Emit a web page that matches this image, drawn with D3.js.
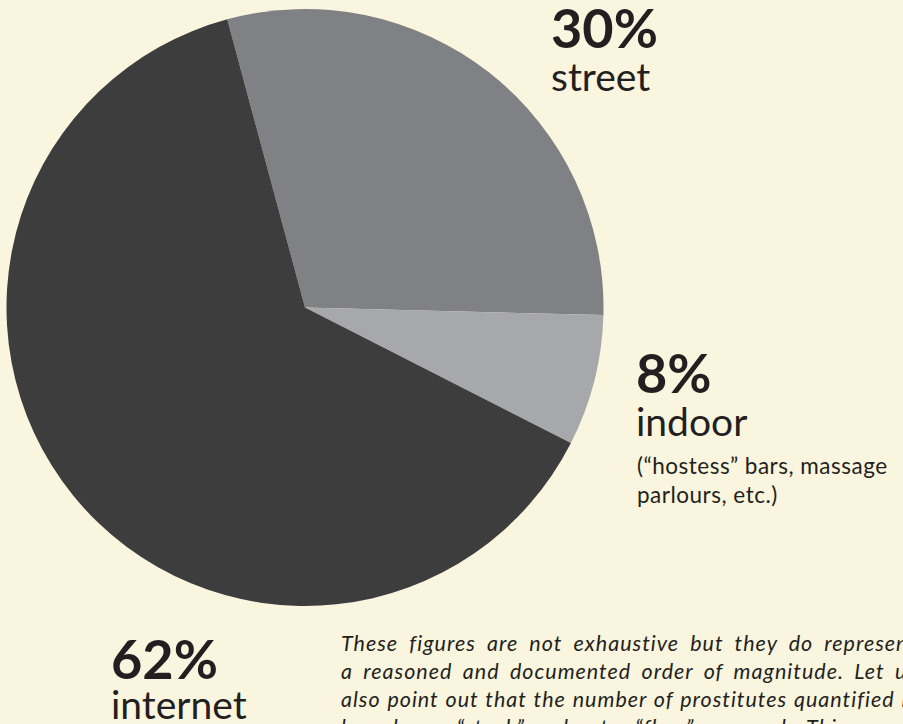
<!DOCTYPE html>
<html>
<head>
<meta charset="utf-8">
<script src="https://cdn.jsdelivr.net/npm/d3@7"></script>
<style>
  html, body { margin: 0; padding: 0; background: #f9f5de; overflow: hidden; }
  svg { display: block; }
</style>
</head>
<body>
<svg id="chart" width="903" height="724"></svg>
<script>
// ---- data ----
const categories = ["street", "indoor", "internet"];
const shares = [29.6, 7.1, 63.3];           // slice sizes (percent)
const percentLabels = ["30%", "8%", "62%"];  // printed labels
const sliceColors = ["#808184", "#a7a8ab", "#3d3d3d"];
const indoorNote = ["(\u201Chostess\u201D bars, massage", "parlours, etc.)"];
const noteLines = [
  "These figures are not exhaustive but they do represent",
  "a reasoned and documented order of magnitude. Let us",
  "also point out that the number of prostitutes quantified is",
  "based on a \u201Cstock\u201D and not a \u201Cflow\u201D approach. This means"
];

const svg = d3.select("#chart");
const cx = 305, cy = 307.5, r = 298.5;
const startDeg = -15.1;

const pie = d3.pie().sort(null).value(d => d)
  .startAngle(startDeg * Math.PI / 180)
  .endAngle((startDeg + 360) * Math.PI / 180);
const arc = d3.arc().innerRadius(0).outerRadius(r);
const color = d3.scaleOrdinal().domain(categories).range(sliceColors);

svg.append("g").attr("transform", `translate(${cx},${cy})`)
  .selectAll("path")
  .data(pie(shares))
  .join("path")
  .attr("d", arc)
  .attr("fill", (d, i) => color(categories[i]));

const ink = "#231f20";
const font = "Lato, 'Open Sans', sans-serif";

// label positions (layout)
const labelPos = [
  { x: 551, y: 48, y2: 91 },
  { x: 636, y: 393, y2: 436 },
  { x: 111, y: 679, y2: 719 }
];

labelPos.forEach((p, i) => {
  svg.append("text")
    .attr("x", p.x).attr("y", p.y)
    .attr("font-family", font)
    .attr("font-weight", 700)
    .attr("font-size", 54)
    .attr("fill", ink)
    .text(percentLabels[i]);
  svg.append("text")
    .attr("x", p.x).attr("y", p.y2)
    .attr("font-family", font)
    .attr("font-weight", 400)
    .attr("font-size", 39)
    .attr("fill", ink)
    .text(categories[i]);
});

indoorNote.forEach((t, i) => {
  svg.append("text")
    .attr("x", 637).attr("y", 474 + i * 29)
    .attr("font-family", font)
    .attr("font-size", 22.5)
    .attr("letter-spacing", 0.5)
    .attr("fill", ink)
    .text(t);
});

// justified italic note
const colWidth = 576;
noteLines.forEach((t, i) => {
  const tx = svg.append("text")
    .attr("x", 341).attr("y", 651 + i * 28)
    .attr("font-family", font)
    .attr("font-style", "italic")
    .attr("font-size", 21.5)
    .attr("letter-spacing", 1.0)
    .attr("fill", ink)
    .text(t);
  const w = tx.node().getComputedTextLength();
  const spaces = (t.match(/ /g) || []).length;
  if (spaces > 0 && w < colWidth) {
    tx.attr("word-spacing", (colWidth - w) / spaces);
  }
});
</script>
</body>
</html>
